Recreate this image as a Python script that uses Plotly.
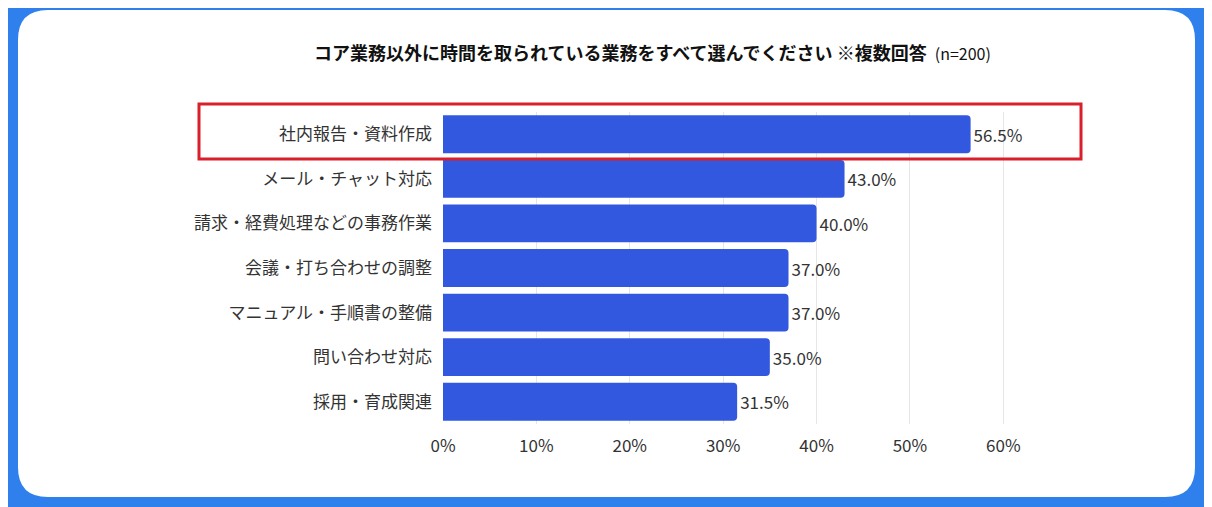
import plotly.graph_objects as go

categories = ["社内報告・資料作成", "メール・チャット対応", "請求・経費処理などの事務作業",
              "会議・打ち合わせの調整", "マニュアル・手順書の整備", "問い合わせ対応", "採用・育成関連"]
values = [56.5, 43.0, 40.0, 37.0, 37.0, 35.0, 31.5]
tick_vals = [0, 10, 20, 30, 40, 50, 60]
tick_text = ["0%", "10%", "20%", "30%", "40%", "50%", "60%"]

W, H = 1212, 507
OFF = 8
L, R, T, B = 443 - OFF, 134 + OFF, 112 - OFF, 83 + OFF
pw, ph = W - L - R, H - T - B
def px(x): return (x - OFF - L) / pw
def py(y): return 1 - (y - OFF - T) / ph

FONT = "Noto Sans CJK JP"
fig = go.Figure(go.Bar(
    y=categories, x=values, orientation="h",
    marker=dict(color="#3358e0", line=dict(width=0), cornerradius=4),
    text=[f"{v:.1f}%" for v in values], textposition="outside",
    textfont=dict(size=17, color="#333333", family=FONT),
    width=0.85, cliponaxis=False,
))

def rrect(x0, y0, x1, y1, r):
    return (f"M {px(x0+r)} {py(y0)} L {px(x1-r)} {py(y0)} Q {px(x1)} {py(y0)} {px(x1)} {py(y0+r)} "
            f"L {px(x1)} {py(y1-r)} Q {px(x1)} {py(y1)} {px(x1-r)} {py(y1)} "
            f"L {px(x0+r)} {py(y1)} Q {px(x0)} {py(y1)} {px(x0)} {py(y1-r)} "
            f"L {px(x0)} {py(y0+r)} Q {px(x0)} {py(y0)} {px(x0+r)} {py(y0)} Z")

fig.update_layout(
    width=W, height=H, margin=dict(l=L, r=R, t=T, b=B, pad=10),
    paper_bgcolor="#2f80ed", plot_bgcolor="rgba(0,0,0,0)",
    font=dict(family=FONT, color="#333333"),
    showlegend=False,
    xaxis=dict(range=[0, 68], tickvals=tick_vals, ticktext=tick_text,
               tickfont=dict(size=17, color="#333333"), showgrid=True,
               gridcolor="#e6e6e6", zeroline=False, showline=False, ticks=""),
    yaxis=dict(autorange="reversed", tickfont=dict(size=17, color="#333333"),
               showgrid=False, ticks="", showline=False),
    shapes=[
        dict(type="path", xref="paper", yref="paper", path=rrect(18, 10, 1195, 497, 30),
             fillcolor="white", line=dict(width=0), layer="below"),
        dict(type="rect", xref="paper", yref="paper", x0=px(199), x1=px(1081),
             y0=py(104), y1=py(159), line=dict(color="#d9202a", width=3), layer="above"),
    ],
    annotations=[dict(xref="paper", yref="paper", x=px(652), y=py(52), xanchor="center", yanchor="middle",
                      showarrow=False,
                      text="<b>コア業務以外に時間を取られている業務をすべて選んでください ※複数回答</b>  <span style='font-size:16px'>(n=200)</span>",
                      font=dict(size=18, color="#111111", family=FONT))],
)
fig.write_html("out.html")
